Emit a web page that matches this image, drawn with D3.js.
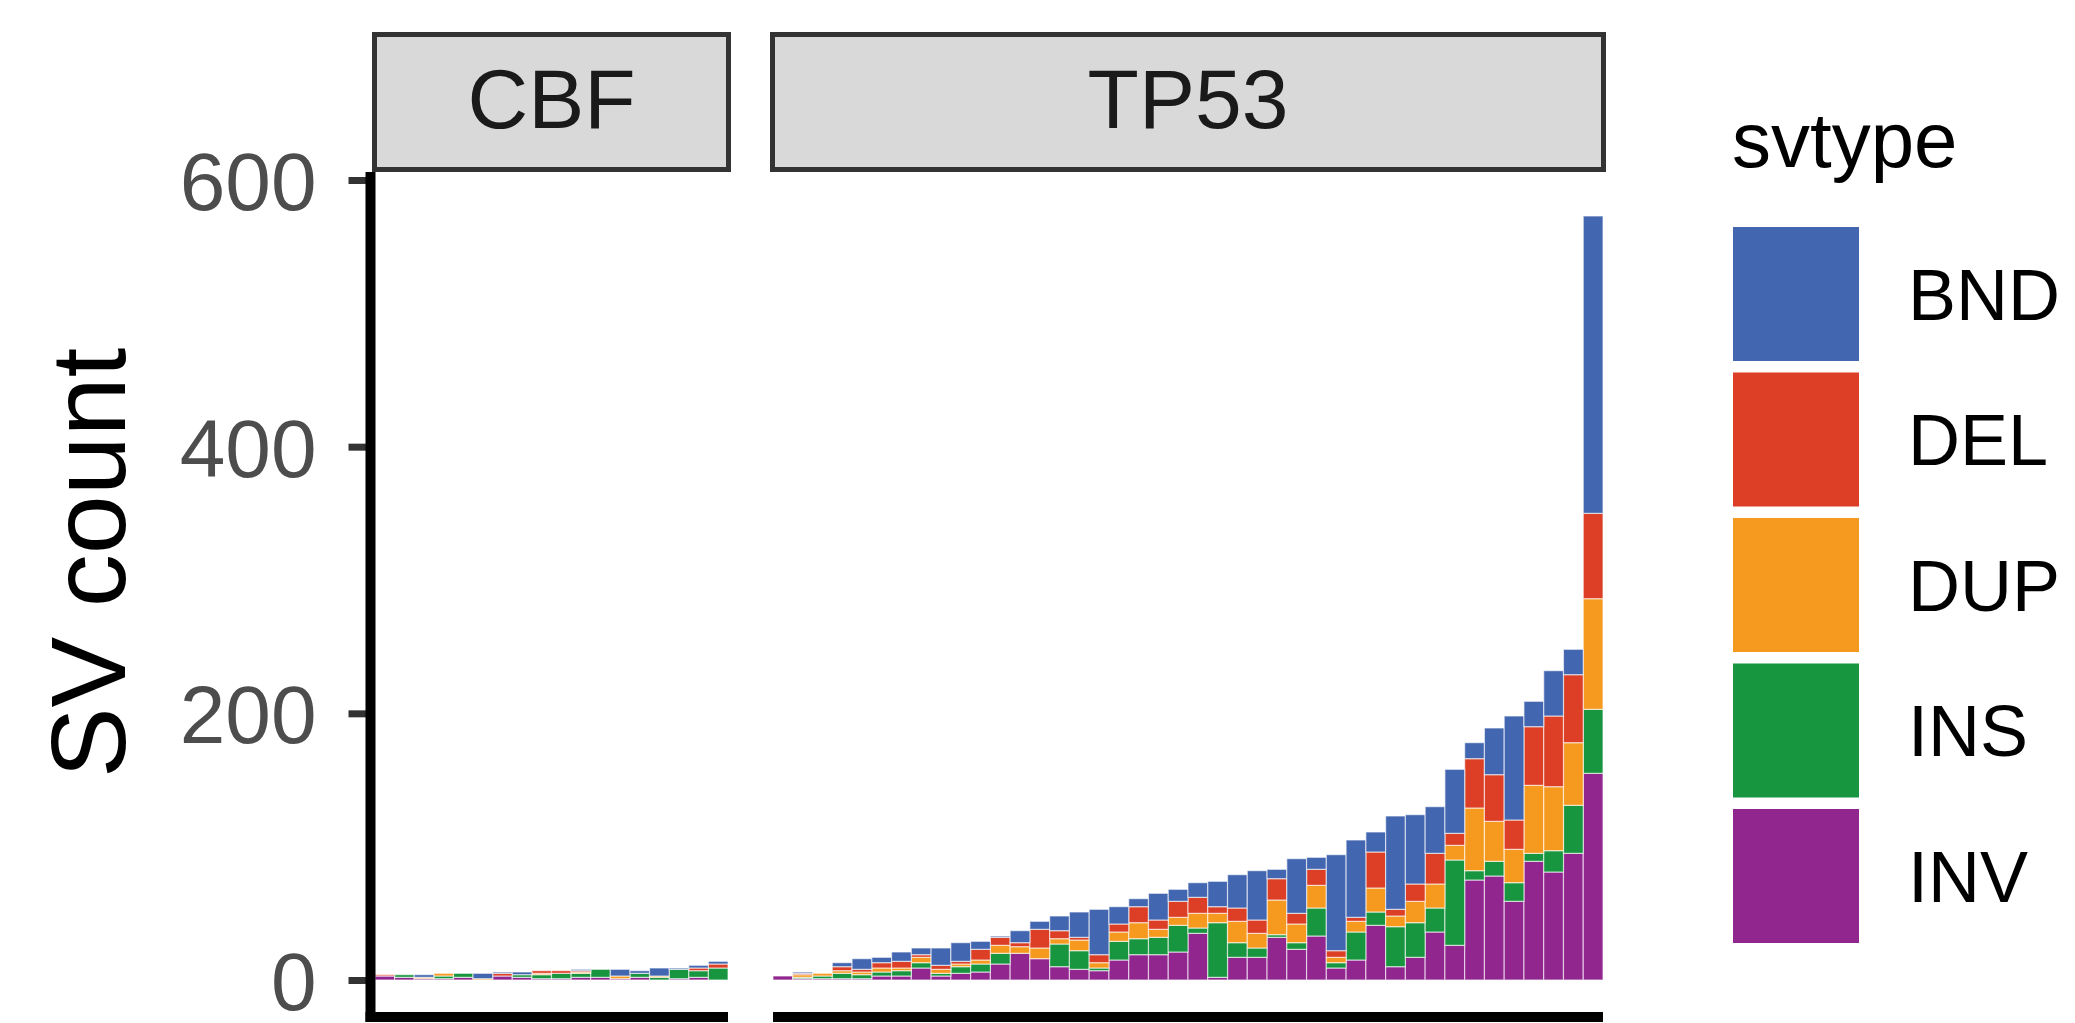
<!DOCTYPE html>
<html>
<head>
<meta charset="utf-8">
<script src="https://cdn.jsdelivr.net/npm/d3@7"></script>
<style>
  html, body { margin: 0; padding: 0; background: #ffffff; }
  svg { display: block; }
  text { font-family: "Liberation Sans", Arial, Helvetica, sans-serif; }
</style>
</head>
<body>
<svg id="chart" width="2075" height="1023"></svg>
<script>
// ---------------- data ----------------
const svtypes = ["BND", "DEL", "DUP", "INS", "INV"];
const svColors = ["#4366B0", "#DC3F25", "#F59A1E", "#18963F", "#91268F"];
const panels = ["CBF", "TP53"];
const yTicks = [0, 200, 400, 600];

// CBF samples (18)
const cbfBND = [0, 0, 2, 0, 0, 4, 1, 2, 0, 0, 1, 0, 5, 2, 6, 1, 2, 2];
const cbfDEL = [1, 0, 0, 0, 0, 0, 2, 0, 2, 2, 1, 0, 0, 0, 0, 0, 2, 3];
const cbfDUP = [0, 0, 1, 2, 0, 1, 0, 0, 1, 0, 1, 0, 2, 0, 1, 0, 0, 0];
const cbfINS = [0, 2, 0, 2, 3, 0, 0, 2, 3, 4, 3, 6, 0, 3, 2, 7, 5, 9];
const cbfINV = [3, 2, 1, 1, 2, 0, 3, 2, 1, 1, 2, 2, 1, 2, 0, 1, 2, 0];

// TP53 samples (42)
const tp53BND = [0, 1, 0, 3, 8, 4, 7, 5, 13, 14, 6, 1, 9, 6, 11, 19, 34, 13, 6, 20, 9, 11,
                 19, 25, 37, 7, 41, 9, 72, 58, 15, 70, 52, 35, 48, 12, 35, 78, 19, 34, 19, 223];
const tp53DEL = [0, 1, 0, 3, 2, 4, 5, 2, 3, 2, 8, 6, 3, 14, 6, 2, 6, 6, 12, 7, 12, 12,
                 5, 10, 10, 16, 8, 12, 5, 3, 27, 5, 13, 23, 9, 37, 35, 22, 44, 53, 51, 64];
const tp53DUP = [0, 2, 2, 2, 2, 3, 2, 4, 3, 2, 3, 6, 5, 8, 4, 8, 4, 7, 12, 6, 6, 11,
                 7, 16, 11, 26, 14, 17, 4, 8, 18, 8, 16, 18, 11, 47, 30, 25, 51, 48, 47, 83];
const tp53INS = [0, 1, 2, 4, 3, 3, 4, 4, 2, 5, 6, 8, 0, 0, 17, 14, 2, 14, 12, 13, 20, 4,
                 41, 11, 7, 2, 5, 21, 4, 21, 10, 30, 26, 18, 64, 7, 11, 14, 6, 16, 36, 48];
const tp53INV = [3, 1, 1, 1, 1, 3, 3, 9, 3, 5, 6, 12, 20, 16, 10, 8, 7, 15, 19, 19, 21, 35,
                 2, 17, 17, 32, 23, 33, 9, 15, 41, 10, 17, 36, 26, 75, 78, 59, 89, 81, 95, 155];

// ---------------- build ----------------
const svg = d3.select("#chart");
const color = d3.scaleOrdinal().domain(svtypes).range(svColors);

const y = d3.scaleLinear().domain([0, 600]).range([980, 180]);
const panelTop = 172, panelBottom = 1020;

function rows(series) {
  const n = series[0].length;
  return d3.range(n).map(i => {
    const r = { id: i };
    svtypes.forEach((k, j) => r[k] = series[j][i]);
    return r;
  });
}

const panelData = [
  { name: "CBF", range: [375, 728], rows: rows([cbfBND, cbfDEL, cbfDUP, cbfINS, cbfINV]) },
  { name: "TP53", range: [773, 1603], rows: rows([tp53BND, tp53DEL, tp53DUP, tp53INS, tp53INV]) }
];

// stacking: INV at the bottom, BND on top
const stack = d3.stack().keys(["INV", "INS", "DUP", "DEL", "BND"]);

panelData.forEach(p => {
  const x = d3.scaleBand().domain(p.rows.map(r => r.id)).range(p.range).padding(0);
  const layers = stack(p.rows);
  const g = svg.append("g");
  g.selectAll("g.layer").data(layers).join("g")
    .attr("class", "layer")
    .attr("fill", d => color(d.key))
    .selectAll("rect").data(d => d).join("rect")
    .attr("x", d => x(d.data.id))
    .attr("width", x.bandwidth())
    .attr("y", d => y(d[1]))
    .attr("height", d => Math.max(0, y(d[0]) - y(d[1])))
    .attr("stroke", "#ffffff")
    .attr("stroke-opacity", 0.6)
    .attr("stroke-width", 1.2);

  // strip
  svg.append("rect")
    .attr("x", p.range[0] - 0.5).attr("y", 34.5)
    .attr("width", p.range[1] - p.range[0] + 1).attr("height", panelTop - 37)
    .attr("fill", "#D9D9D9").attr("stroke", "#333333").attr("stroke-width", 5);
  svg.append("text")
    .attr("x", (p.range[0] + p.range[1]) / 2).attr("y", 128)
    .attr("text-anchor", "middle")
    .attr("font-size", 84).attr("fill", "#1A1A1A")
    .text(p.name);

  // bottom axis line
  svg.append("line")
    .attr("x1", p.name === "CBF" ? 365.5 : p.range[0]).attr("x2", p.range[1])
    .attr("y1", 1017).attr("y2", 1017)
    .attr("stroke", "#000000").attr("stroke-width", 10);
});

// y axis
const yAxis = d3.axisLeft(y).tickValues(yTicks).tickSize(22).tickPadding(32);
const ga = svg.append("g").attr("transform", "translate(370.5,0)").call(yAxis);
ga.select(".domain").remove();
ga.selectAll(".tick line").attr("stroke", "#333333").attr("stroke-width", 7);
ga.selectAll(".tick text")
  .attr("fill", "#4D4D4D")
  .attr("font-size", 82)
  .attr("font-family", "'Liberation Sans', Arial, Helvetica, sans-serif")
  .attr("dy", "0.36em");

svg.append("line")
  .attr("x1", 370.5).attr("x2", 370.5)
  .attr("y1", panelTop).attr("y2", 1022)
  .attr("stroke", "#000000").attr("stroke-width", 10);

// y title
svg.append("text")
  .attr("transform", "translate(125,563) rotate(-90)")
  .attr("text-anchor", "middle")
  .attr("font-size", 106).attr("fill", "#000000")
  .text("SV count");

// legend
const lg = svg.append("g");
lg.append("text")
  .attr("x", 1732).attr("y", 167)
  .attr("font-size", 78).attr("fill", "#000000")
  .text("svtype");
const items = lg.selectAll("g.item").data(svtypes).join("g")
  .attr("class", "item")
  .attr("transform", (d, i) => `translate(1733, ${227 + i * 145.5})`);
items.append("rect")
  .attr("width", 126).attr("height", 134)
  .attr("fill", d => color(d));
items.append("text")
  .attr("x", 175).attr("y", 67)
  .attr("dy", "0.36em")
  .attr("font-size", 72).attr("fill", "#000000")
  .text(d => d);
</script>
</body>
</html>
